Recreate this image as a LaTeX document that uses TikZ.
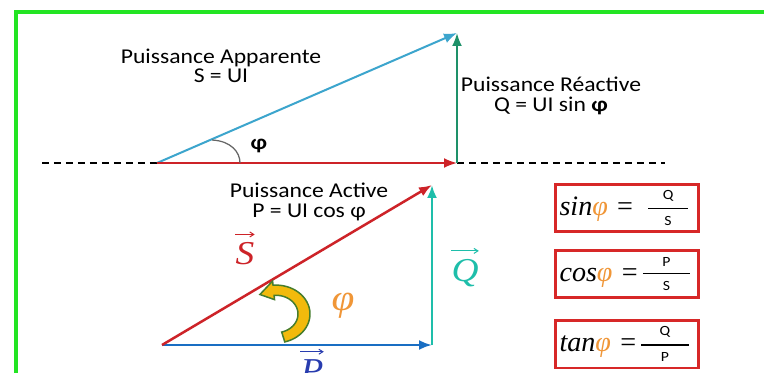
\documentclass[tikz,border=0pt]{standalone}
\usepackage{fontspec}
\usepackage{xcolor}
\setmainfont{Liberation Serif}
\newfontfamily\lblfont[FakeStretch=1.12]{Carlito}
\newfontfamily\frmfont[FakeStretch=1.12]{Liberation Serif}
\usetikzlibrary{arrows.meta}

\definecolor{framegreen}{RGB}{35,228,35}
\definecolor{appcyan}{RGB}{60,165,205}
\definecolor{reacgreen}{RGB}{30,145,105}
\definecolor{actred}{RGB}{205,35,40}
\definecolor{vecblue}{RGB}{25,110,195}
\definecolor{vecteal}{RGB}{30,190,170}
\definecolor{letblue}{RGB}{40,60,175}
\definecolor{phiorange}{RGB}{240,150,55}
\definecolor{boxred}{RGB}{215,40,40}
\definecolor{arcyellow}{RGB}{242,186,12}
\definecolor{arcgreen}{RGB}{70,125,45}

\newcommand\smallf{\lblfont\fontsize{8}{8}\selectfont}
\newcommand\frc[3]{$\vcenter{\hbox to #3{\hfil\smallf #1\hfil}\kern4pt
  \hrule height 0.6pt width #3\kern4pt\hbox to #3{\hfil\smallf #2\hfil}}$}

\begin{document}
\begin{tikzpicture}[x=0.02cm, y=-0.02cm,
  vec/.style={line width=0.5mm, -{Latex[length=2.6mm,width=2mm]}},
  lbl/.style={font=\lblfont\fontsize{12}{11}\selectfont, align=center, inner sep=0pt},
  frm/.style={draw=boxred, line width=0.6mm, minimum width=2.86cm, minimum height=0.96cm,
              text width=2.7cm, align=left, inner sep=0pt,
              font=\fontsize{16}{16}\selectfont},
  vlbl/.style={font=\frmfont\itshape\fontsize{19}{19}\selectfont, inner sep=0pt},
  varr/.style={line width=0.2mm, -{Straight Barb[length=0.8mm,width=1mm]}},
  refline/.style={dash pattern=on 1.4mm off 1mm, line width=0.3mm}
]
\clip (0,0) rectangle (764,372);
\fill[white] (0,0) rectangle (764,372);
\draw[framegreen, line width=1mm] (800,12) -- (16,12) -- (16,400);

% upper triangle
\coordinate (o1) at (157,163);
\coordinate (p1) at (457,163);
\coordinate (s1) at (457,33);
\coordinate (dl) at (42,163);
\coordinate (dr) at (665,163);
\coordinate (a1) at (212,140);
\coordinate (a2) at (240,163);

\draw[refline] (dl) -- (o1);
\draw[refline] (p1) -- (dr);
\draw[vec, appcyan, line width=0.4mm] (o1) -- (s1);
\draw[vec, actred, line width=0.4mm] (o1) -- (p1);
\draw[vec, reacgreen, line width=0.4mm] (p1) -- (s1);
\draw[black!60, line width=0.25mm] (a1) .. controls (231,141) and (240,152) .. (a2);

\node[lbl] (app) at (221,66) {Puissance Apparente\\S = UI};
\node[lbl] (rea) at (551,96) {Puissance Réactive\\Q = UI sin \textbf{φ}};
\node[lbl, font=\lblfont\bfseries\fontsize{12}{12}\selectfont] (phi1) at (259,146) {φ};

% lower triangle
\coordinate (o2) at (162,345);
\coordinate (p2) at (432,345);
\coordinate (s2) at (432,185);

\draw[vec, vecblue] (o2) -- (p2);
\draw[vec, actred] (o2) -- (s2);
\draw[vec, vecteal] (p2) -- (s2);

\node[lbl] (act) at (309,202) {Puissance Active\\P = UI cos φ};
\node[vlbl, actred] (vs) at (245,254) {S};
\node[vlbl, vecteal] (vq) at (465,273) {Q};
\node[vlbl, letblue] (vp) at (312,371) {P};
\draw[varr, actred] ([yshift=1.6mm]vs.north west) -- ([yshift=1.6mm]vs.north east);
\draw[varr, vecteal] ([yshift=1.6mm]vq.north west) -- ([yshift=1.6mm]vq.north east);
\draw[varr, letblue] ([yshift=1.6mm]vp.north west) -- ([yshift=1.6mm]vp.north east);
\node[vlbl, phiorange, font=\frmfont\itshape\fontsize{21}{21}\selectfont] (phi2) at (343,306) {φ};

\begin{scope}[shift={(276,314)}, yscale=0.85]
  \filldraw[fill=arcyellow, draw=arcgreen, line width=0.3mm]
    plot[domain=75:-95, samples=30] (\x:34) -- (-95:39) -- (-125:28) -- (-95:17)
    -- plot[domain=-95:75, samples=30] (\x:22) -- cycle;
\end{scope}

% formulas
\node[frm] (fsin) at (627,208) {\itshape sin\textcolor{phiorange}{φ}\upshape\ =\hspace{3mm}\frc{Q}{S}{8mm}};
\node[frm] (fcos) at (627,274) {\itshape cos\textcolor{phiorange}{φ}\upshape\ =\hspace{1mm}\frc{P}{S}{9.5mm}};
\node[frm] (ftan) at (627,344) {\itshape tan\textcolor{phiorange}{φ}\upshape\ =\hspace{1mm}\frc{Q}{P}{9.5mm}};
\end{tikzpicture}
\end{document}
